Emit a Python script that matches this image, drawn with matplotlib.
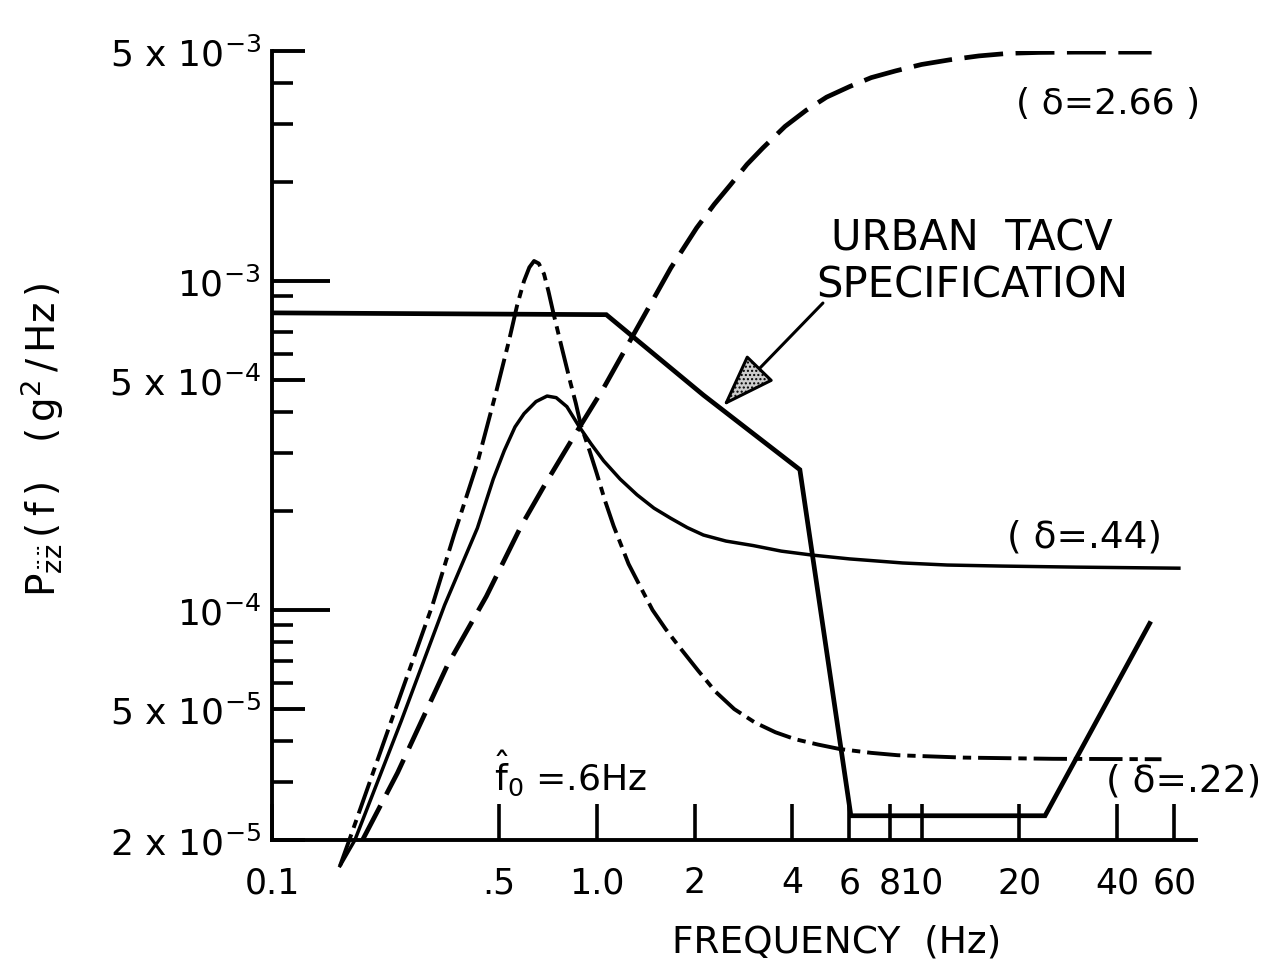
import numpy as np
import matplotlib
matplotlib.use("Agg")
import matplotlib.pyplot as plt

plt.rcParams['font.family'] = ['DejaVu Sans']
plt.rcParams['mathtext.default'] = 'regular'
plt.rcParams['lines.scale_dashes'] = False

# values: frequency (Hz) and PSD (g^2/Hz)
spec_f = [0.1, 1.07, 2.13, 4.22, 6.06, 24.0, 50.4]
spec_p = [8.0e-4, 7.9e-4, 4.5e-4, 2.67e-4, 2.37e-5, 2.37e-5, 9.1e-5]

d22_f = [0.162, 0.173, 0.24, 0.312, 0.364, 0.429, 0.490, 0.537, 0.568, 0.597,
         0.62, 0.641, 0.663, 0.688, 0.71, 0.735, 0.781, 0.83, 0.862, 0.893,
         0.95, 1.0, 1.06, 1.127, 1.253, 1.36, 1.485, 1.63, 1.80, 2.05,
         2.32, 2.65, 3.07, 3.55, 4.08, 4.8, 5.6, 7.0, 8.44, 13.5,
         25.4, 54.8]
d22_p = [1.67e-5, 2.0e-5, 5.0e-5, 1.035e-4, 1.7e-4, 2.8e-4, 4.6e-4, 6.6e-4, 8.4e-4, 1.0e-3,
         1.1e-3, 1.15e-3, 1.13e-3, 1.05e-3, 9.3e-4, 8.0e-4, 6.25e-4, 4.9e-4, 4.25e-4, 3.65e-4,
         3.05e-4, 2.6e-4, 2.15e-4, 1.8e-4, 1.38e-4, 1.18e-4, 1.0e-4, 8.75e-5, 7.7e-5, 6.55e-5,
         5.65e-5, 5.0e-5, 4.55e-5, 4.25e-5, 4.05e-5, 3.9e-5, 3.78e-5, 3.68e-5, 3.62e-5, 3.56e-5,
         3.53e-5, 3.52e-5]

d44_f = [0.162, 0.180, 0.25, 0.340, 0.429, 0.48, 0.519, 0.56, 0.597, 0.65,
         0.703, 0.75, 0.809, 0.881, 0.96, 1.05, 1.18, 1.33, 1.5, 1.69,
         1.9, 2.13, 2.5, 3.03, 3.7, 4.57, 6.0, 8.74, 12.0, 17.7,
         30.0, 62.0]
d44_p = [1.67e-5, 2.0e-5, 4.6e-5, 1.035e-4, 1.775e-4, 2.5e-4, 3.05e-4, 3.6e-4, 3.95e-4, 4.3e-4,
         4.47e-4, 4.42e-4, 4.15e-4, 3.62e-4, 3.2e-4, 2.84e-4, 2.5e-4, 2.24e-4, 2.04e-4, 1.9e-4,
         1.78e-4, 1.69e-4, 1.62e-4, 1.57e-4, 1.51e-4, 1.47e-4, 1.43e-4, 1.39e-4, 1.37e-4, 1.36e-4,
         1.35e-4, 1.34e-4]

d266_f = [0.190, 0.2435, 0.347, 0.457, 0.585, 0.688, 0.792, 0.881, 1.05, 1.28,
          1.69, 2.03, 2.3, 2.58, 2.9, 3.25, 3.8, 4.41, 5.1, 6.01,
          7.0, 8.32, 10.0, 12.2, 15.0, 18.6, 23.0, 29.7, 51.1]
d266_p = [2.0e-5, 3.2e-5, 6.8e-5, 1.1e-4, 1.8e-4, 2.38e-4, 3.0e-4, 3.57e-4, 4.73e-4, 6.71e-4,
          1.095e-3, 1.45e-3, 1.71e-3, 1.96e-3, 2.26e-3, 2.54e-3, 2.95e-3, 3.3e-3, 3.62e-3, 3.9e-3,
          4.15e-3, 4.35e-3, 4.55e-3, 4.70e-3, 4.83e-3, 4.92e-3, 4.95e-3, 4.96e-3, 4.96e-3]

xtick_vals = [0.1, 0.5, 1, 2, 4, 6, 8, 10, 20, 40, 60]
xtick_labels = ['0.1', '.5', '1.0', '2', '4', '6', '8', '10', '20', '40', '60']
ytick_vals = [2e-5, 5e-5, 1e-4, 5e-4, 1e-3, 5e-3]
ytick_labels = [r'$2\ x\ 10^{-5}$', r'$5\ x\ 10^{-5}$', r'$10^{-4}$',
                r'$5\ x\ 10^{-4}$', r'$10^{-3}$', r'$5\ x\ 10^{-3}$']
yminor_vals = [3e-5, 4e-5, 6e-5, 7e-5, 8e-5, 9e-5, 2e-4, 3e-4, 4e-4, 6e-4, 7e-4,
               8e-4, 9e-4, 2e-3, 3e-3, 4e-3]

fig = plt.figure(figsize=(12.68, 9.70), dpi=100)
ax = fig.add_axes([272/1268, 1-841/970, (1196-272)/1268, (841-52)/970])

ax.plot(spec_f, spec_p, color='k', lw=3.4, solid_joinstyle='miter')
ax.plot(d44_f, d44_p, color='k', lw=2.5, clip_on=False)
ax.plot(d22_f, d22_p, color='k', lw=2.8, linestyle=(0, (24, 5, 6, 5)), clip_on=False)
ax.plot(d266_f, d266_p, color='k', lw=3.4, linestyle=(0, (28, 9)))

ax.set_xscale('log')
ax.set_yscale('log')
ax.set_xlim(0.1, 70)
ax.set_ylim(2e-5, 5e-3)

for s in ['top', 'right']:
    ax.spines[s].set_visible(False)
for s in ['left', 'bottom']:
    ax.spines[s].set_linewidth(2.8)

ax.set_xticks(xtick_vals)
ax.set_xticklabels(xtick_labels)
ax.set_xticks([], minor=True)
ax.set_yticks(ytick_vals)
ax.set_yticklabels(ytick_labels)
ax.set_yticks(yminor_vals, minor=True)
ax.yaxis.set_minor_formatter(plt.NullFormatter())

ax.tick_params(axis='x', which='major', direction='in', length=26, width=2.6,
               labelsize=25, pad=18)
ax.tick_params(axis='y', which='major', direction='in', length=24, width=2.8,
               labelsize=26, pad=8)
ax.tick_params(axis='y', which='minor', direction='in', length=15, width=2.6)

# the decade ticks are longer
for t, v in zip(ax.yaxis.get_major_ticks(), ytick_vals):
    if v in (1e-4, 1e-3):
        t.tick1line.set_markersize(42)

ax.text(37.5, 3.47e-3, '( δ=2.66 )', fontsize=26, ha='center', va='center')
ax.text(14.3, 1.15e-3, 'URBAN  TACV\nSPECIFICATION', fontsize=30, ha='center',
        va='center', linespacing=1.15)
ax.text(31.8, 1.67e-4, '( δ=.44)', fontsize=27, ha='center', va='center')
ax.text(64, 3.04e-5, '( δ=.22)', fontsize=27, ha='center', va='center')
ax.text(0.83, 3.2e-5, r'$\hat{f}_0$ =.6Hz', fontsize=26, ha='center', va='center')

ax.annotate('', xy=(2.45, 4.17e-4), xytext=(4.97, 8.57e-4),
            arrowprops=dict(arrowstyle='-|>,head_length=1.7,head_width=0.6',
                            lw=2.2, fc='0.8', ec='k', hatch='....',
                            shrinkA=0, shrinkB=0, mutation_scale=20))

fig.text(837/1268, 1-943/970, 'FREQUENCY  (Hz)', fontsize=27, ha='center', va='center')
fig.text(42/1268, 1-440/970, r'$P_{\ddot{z}\ddot{z}}\,(\,f\,)\quad(\,g^2\,/\,Hz\,)$',
         fontsize=28, rotation=90, ha='center', va='center')

fig.savefig('out.png', dpi=100, facecolor='white')
